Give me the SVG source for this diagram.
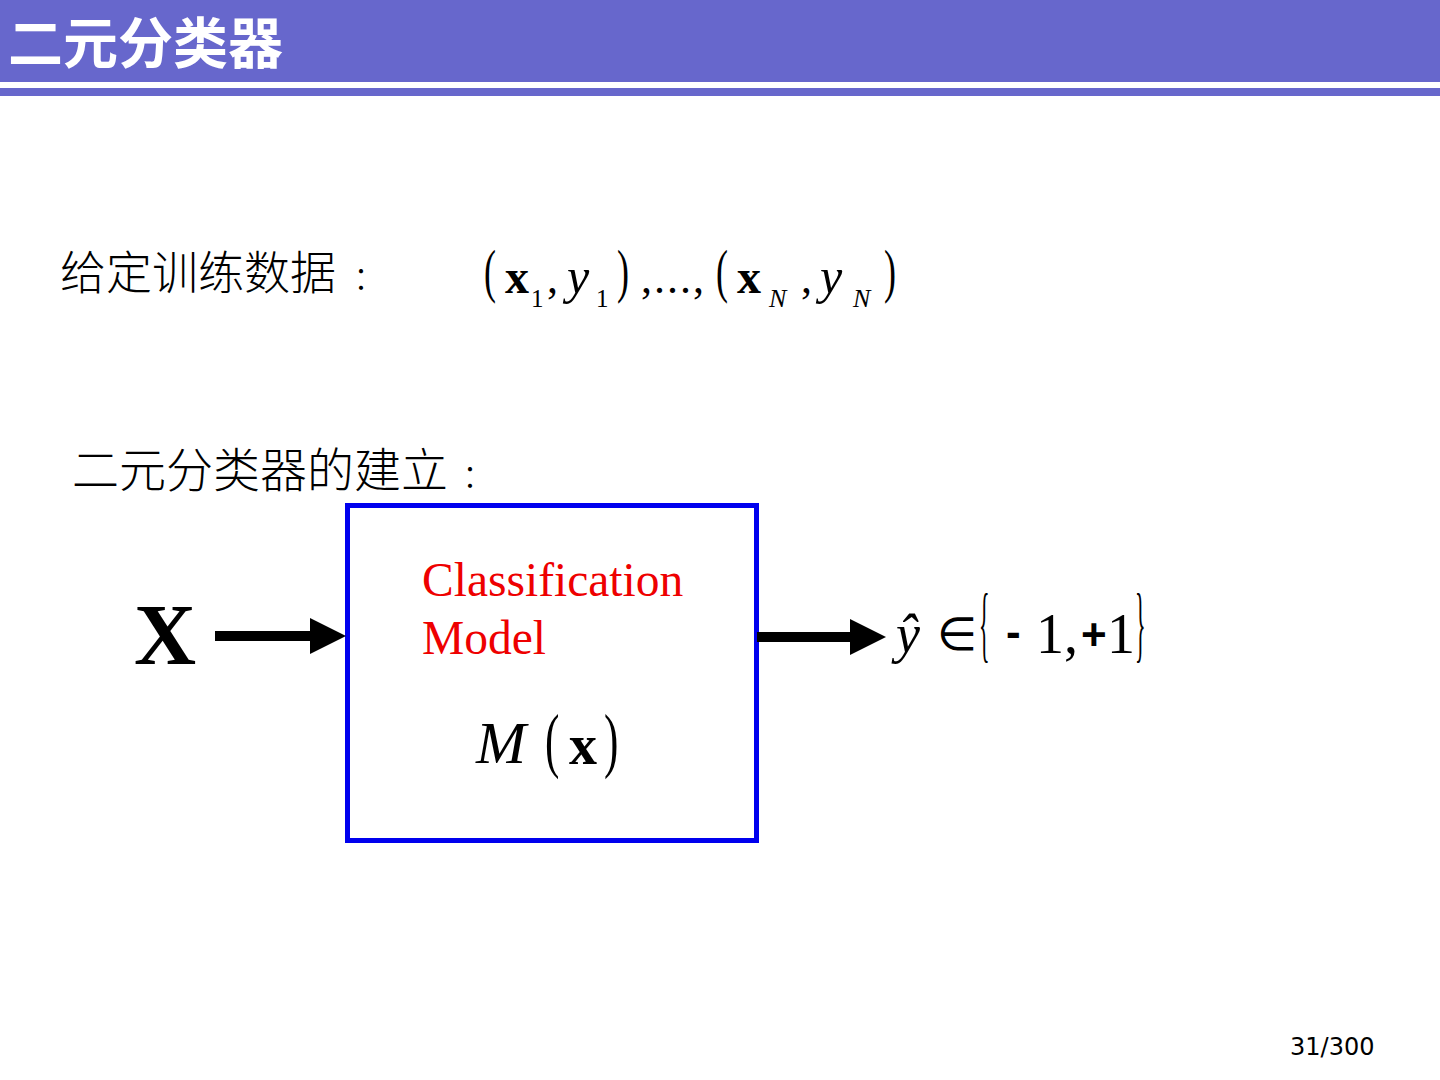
<svg xmlns="http://www.w3.org/2000/svg" width="1440" height="1080" viewBox="0 0 1440 1080">
<style>
.cjk{font-family:"Noto Sans CJK SC","Noto Sans",sans-serif;}
.body{font-weight:300;fill:#000;}
.ser{font-family:"Liberation Serif",serif;fill:#000;}
.thin{font-family:"Liberation Serif",serif;fill:#000;}
</style>
<defs>
<marker id="ah" viewBox="0 0 10 10" refX="0" refY="5" markerWidth="3.6" markerHeight="3.8" orient="auto" markerUnits="strokeWidth">
<path d="M0,0 L10,5 L0,10 Z" fill="#000"/>
</marker>
</defs>
<rect width="1440" height="1080" fill="#fff"/>
<g id="header">
<rect x="0" y="0" width="1440" height="82" fill="#6767CC"/>
<rect x="0" y="88" width="1440" height="8" fill="#6767CC"/>
<text x="8" y="63" class="cjk" font-size="55" font-weight="bold" fill="#fff">二元分类器</text>
</g>
<g id="training">
<text x="60" y="289" class="cjk body" font-size="46">给定训练数据</text>
<text x="356" y="289" class="cjk body" font-size="40">:</text>
<text class="thin" font-size="40" transform="translate(484,291) scale(0.9,1.5)">(</text>
<text x="505" y="293" class="ser" font-size="48" font-weight="bold">x</text>
<text x="531" y="307" class="ser" font-size="25">1</text>
<text x="547" y="293" class="ser" font-size="44">,</text>
<text x="567" y="293" class="ser" font-size="50" font-style="italic">y</text>
<text x="596" y="307" class="ser" font-size="25">1</text>
<text class="thin" font-size="40" transform="translate(617,291) scale(0.9,1.5)">)</text>
<text x="641" y="293" class="ser" font-size="44" letter-spacing="2">,...,</text>
<text class="thin" font-size="40" transform="translate(716,291) scale(0.9,1.5)">(</text>
<text x="737" y="293" class="ser" font-size="48" font-weight="bold">x</text>
<text x="769" y="307" class="ser" font-size="26" font-style="italic">N</text>
<text x="801" y="293" class="ser" font-size="44">,</text>
<text x="820" y="293" class="ser" font-size="50" font-style="italic">y</text>
<text x="853" y="307" class="ser" font-size="26" font-style="italic">N</text>
<text class="thin" font-size="40" transform="translate(884,291) scale(0.9,1.5)">)</text>
</g>
<g id="build-label">
<text x="72" y="487" class="cjk body" font-size="47">二元分类器的建立</text>
<text x="465" y="487" class="cjk body" font-size="40">:</text>
</g>
<g id="input">
<text x="134" y="664" class="ser" font-size="86" font-weight="bold">X</text>
</g>
<g id="model">
<rect x="347.5" y="505.5" width="409" height="335" fill="none" stroke="#0000EE" stroke-width="5"/>
<text x="422" y="596" font-family="Liberation Serif,serif" font-size="47.5" fill="#EE0000">Classification</text>
<text x="422" y="654" font-family="Liberation Serif,serif" font-size="47.5" fill="#EE0000">Model</text>
<text x="476" y="763" class="ser" font-size="60" font-style="italic">M</text>
<text class="thin" font-size="48" transform="translate(545,764) scale(0.9,1.5)">(</text>
<text x="569" y="764" class="ser" font-size="56" font-weight="bold">x</text>
<text class="thin" font-size="48" transform="translate(604,764) scale(0.9,1.5)">)</text>
</g>
<g id="output">
<text x="896" y="652" class="ser" font-size="54" font-style="italic">y&#770;</text>
<text x="937" y="650" class="ser" font-size="46">∈</text>
<text class="thin" font-size="40" transform="translate(979,652) scale(0.55,2.1)">{</text>
<text x="1006" y="647" font-family="Liberation Sans,sans-serif" font-size="44" font-weight="bold">-</text>
<text x="1036" y="653" class="ser" font-size="56">1,</text>
<text x="1081" y="650" font-family="Liberation Sans,sans-serif" font-size="44" font-weight="bold">+</text>
<text x="1107" y="653" class="ser" font-size="56">1</text>
<text class="thin" font-size="40" transform="translate(1135,652) scale(0.55,2.1)">}</text>
</g>
<g id="connectors">
<line x1="215" y1="636" x2="310" y2="636" stroke="#000" stroke-width="10" marker-end="url(#ah)"/>
<line x1="757" y1="637" x2="850" y2="637" stroke="#000" stroke-width="10" marker-end="url(#ah)"/>
</g>
<g id="page">
<text x="1290" y="1055" font-family="DejaVu Sans,sans-serif" font-size="24" fill="#000">31/300</text>
</g>
</svg>
